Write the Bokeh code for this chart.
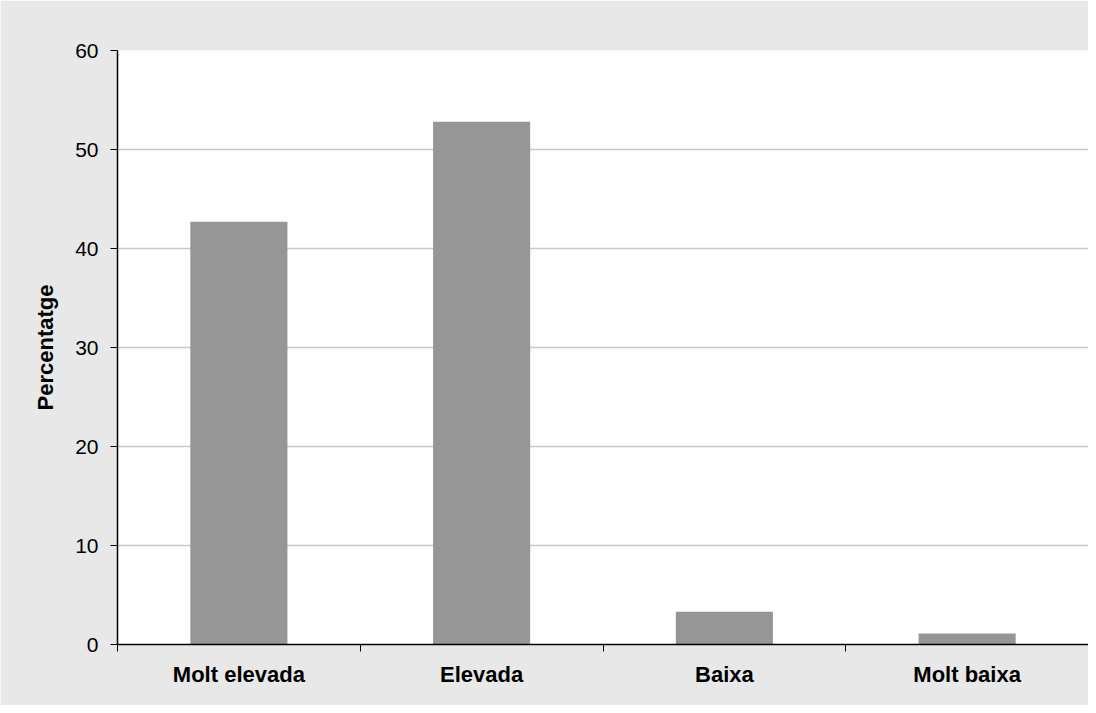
from bokeh.plotting import figure
from bokeh.models import FixedTicker, Range1d, ColumnDataSource
from bokeh.embed import file_html
from bokeh.resources import INLINE

categories = ["Molt elevada", "Elevada", "Baixa", "Molt baixa"]
values = [42.7, 52.8, 3.3, 1.1]
y_ticks = [0, 10, 20, 30, 40, 50, 60]

xpos = [i + 0.5 for i in range(len(categories))]
src = ColumnDataSource(dict(x=xpos, top=values))

p = figure(width=1088, height=705, output_backend="svg", toolbar_location=None,
           x_range=Range1d(0, len(categories)), y_range=Range1d(0, 60),
           min_border_left=117, min_border_top=50, min_border_bottom=61, min_border_right=0)
p.background_fill_color = "white"
p.border_fill_color = "#e8e8e8"
p.outline_line_color = None

p.vbar(x="x", top="top", width=0.4, bottom=0, source=src,
       fill_color="#969696", line_color=None)

FONT = "Liberation Sans"

# x axis: labels at centers, ticks between categories
p.xaxis.ticker = FixedTicker(ticks=xpos, minor_ticks=list(range(len(categories) + 1)))
p.xaxis.major_label_overrides = {x: c for x, c in zip(xpos, categories)}
p.xaxis.major_tick_line_color = None
p.xaxis.major_tick_out = 0
p.xaxis.major_tick_in = 0
p.xaxis.minor_tick_line_color = "black"
p.xaxis.minor_tick_out = 7
p.xaxis.minor_tick_in = 0
p.xaxis.axis_line_color = "black"
p.xaxis.axis_line_width = 1.5
p.xaxis.major_label_standoff = 10
p.xaxis.major_label_text_font = FONT
p.xaxis.major_label_text_font_style = "bold"
p.xaxis.major_label_text_font_size = "22px"
p.xaxis.major_label_text_color = "black"
p.xgrid.grid_line_color = None

# y axis
p.yaxis.ticker = FixedTicker(ticks=y_ticks, minor_ticks=[])
p.yaxis.major_tick_out = 7
p.yaxis.major_tick_in = 0
p.yaxis.major_tick_line_color = "black"
p.yaxis.axis_line_color = "black"
p.yaxis.axis_line_width = 1.5
p.yaxis.major_label_standoff = 12
p.yaxis.major_label_text_font = FONT
p.yaxis.major_label_text_font_size = "21px"
p.yaxis.major_label_text_color = "black"
p.yaxis.axis_label = "Percentatge"
p.yaxis.axis_label_text_font = FONT
p.yaxis.axis_label_text_font_style = "bold"
p.yaxis.axis_label_text_font_size = "22px"
p.yaxis.axis_label_text_color = "black"
p.yaxis.axis_label_standoff = 14
p.ygrid.grid_line_color = "#c8c8c8"
p.ygrid.grid_line_width = 1.5

open("out.html", "w").write(file_html(p, INLINE))
